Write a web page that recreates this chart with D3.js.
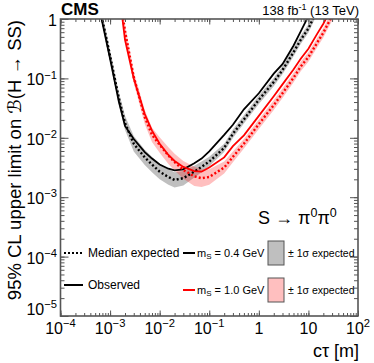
<!DOCTYPE html>
<html>
<head>
<meta charset="utf-8">
<script src="https://cdn.jsdelivr.net/npm/d3@7"></script>
<style>
  body { margin: 0; background: #fff; }
  svg { font-family: "Liberation Sans", Arial, sans-serif; }
</style>
</head>
<body>
<svg id="chart" width="374" height="363"></svg>
<script>
// c*tau grid [m]
const ctau = [6e-4, 1e-3, 1.5e-3, 2e-3, 3e-3, 5e-3, 7e-3, 0.01, 0.015, 0.02, 0.03, 0.05, 0.07, 0.1,
              0.2, 0.3, 0.5, 1, 2, 3, 5, 7, 10, 15, 20, 30]

// m_S = 0.4 GeV
const obs04 = [1.58, 0.214, 0.0407, 0.0158, 0.00955, 0.00575, 0.00447, 0.00355, 0.00302, 0.00282, 0.00295, 0.00372, 0.00447, 0.00589,
               0.0112, 0.0166, 0.0302, 0.0562, 0.120, 0.174, 0.355, 0.617, 1.12, null, null, null]
const exp04 = [1.78, 0.240, 0.0468, 0.0178, 0.00794, 0.00468, 0.00355, 0.00269, 0.00219, 0.00195, 0.00209, 0.00269, 0.00324, 0.00398,
               0.00676, 0.0117, 0.0204, 0.0437, 0.0871, 0.138, 0.275, 0.447, 0.692, 1.41, null, null]
const exp04Up = [2.24, 0.302, 0.0589, 0.0234, 0.0107, 0.00631, 0.00479, 0.00363, 0.00295, 0.00263, 0.00275, 0.00339, 0.00398, 0.00479,
                 0.00794, 0.0138, 0.0240, 0.0513, 0.102, 0.162, 0.324, 0.525, 0.813, 1.66, null, null]
const exp04Down = [1.41, 0.191, 0.0372, 0.0135, 0.00589, 0.00347, 0.00263, 0.00200, 0.00162, 0.00145, 0.00158, 0.00214, 0.00263, 0.00331,
                   0.00575, 0.00996, 0.0174, 0.0372, 0.0741, 0.117, 0.234, 0.380, 0.589, 1.20, null, null]

// m_S = 1.0 GeV
const obs10 = [null, null, 3.16, 0.447, 0.100, 0.0251, 0.0132, 0.00794, 0.00513, 0.00407, 0.00324, 0.00275, 0.00269, 0.00316,
               0.00468, 0.00724, 0.0110, 0.0234, 0.0501, 0.0794, 0.141, 0.214, 0.316, 0.562, 0.832, 1.58]
const exp10 = [null, null, 3.16, 0.631, 0.105, 0.0224, 0.0112, 0.00759, 0.00501, 0.00389, 0.00288, 0.00224, 0.00209, 0.00219,
               0.00316, 0.00479, 0.00794, 0.0170, 0.0355, 0.0562, 0.102, 0.158, 0.229, 0.398, 0.589, 1.12]
const exp10Up = [null, null, 3.98, 0.794, 0.132, 0.0295, 0.0148, 0.0102, 0.00692, 0.00537, 0.00407, 0.00324, 0.00295, 0.00295,
                 0.00398, 0.00589, 0.00955, 0.0204, 0.0427, 0.0676, 0.123, 0.190, 0.275, 0.479, 0.708, 1.35]
const exp10Down = [null, null, 2.51, 0.501, 0.0834, 0.0170, 0.00849, 0.00562, 0.00363, 0.00282, 0.00204, 0.00155, 0.00148, 0.00162,
                   0.00251, 0.00389, 0.00661, 0.0141, 0.0295, 0.0468, 0.0851, 0.132, 0.191, 0.331, 0.490, 0.933]

// tick labels: [base, exponent]
const xTicks = [1e-4, 1e-3, 1e-2, 1e-1, 1, 10, 100]
const xTickLabels = [["10", "−4"], ["10", "−3"], ["10", "−2"], ["10", "−1"], ["1", ""], ["10", ""], ["10", "2"]]
const yTicks = [1e-5, 1e-4, 1e-3, 1e-2, 1e-1, 1]
const yTickLabels = [["10", "−5"], ["10", "−4"], ["10", "−3"], ["10", "−2"], ["10", "−1"], ["1", ""]]

const series = [
    { obs: obs04, exp: exp04, up: exp04Up, down: exp04Down, color: "#000", band: "rgba(0,0,0,0.25)" },
    { obs: obs10, exp: exp10, up: exp10Up, down: exp10Down, color: "#ff0000", band: "rgba(255,0,0,0.25)" }
]

const pLeft = 60.5, pRight = 358, pTop = 19, pBottom = 316
const axisColor = "#555"

const svg = d3.select("#chart")
const x = d3.scaleLog().domain([1e-4, 1e2]).range([pLeft, pRight])
const y = d3.scaleLog().domain([1e-5, 1]).range([pBottom, pTop])

svg.append("defs").append("clipPath").attr("id", "plot-clip")
    .append("rect").attr("x", pLeft).attr("y", pTop).attr("width", pRight - pLeft).attr("height", pBottom - pTop)

const plot = svg.append("g").attr("clip-path", "url(#plot-clip)")

// bands
series.forEach(s => {
    const area = d3.area()
        .defined((d, i) => s.up[i] != null)
        .x((d, i) => x(ctau[i]))
        .y0((d, i) => y(s.down[i]))
        .y1((d, i) => y(s.up[i]))
    plot.append("path").datum(ctau).attr("d", area).attr("fill", s.band)
})

// lines
series.forEach(s => {
    const line = vals => d3.line()
        .defined((d, i) => vals[i] != null)
        .x((d, i) => x(ctau[i]))
        .y((d, i) => y(vals[i]))(ctau)
    plot.append("path").attr("d", line(s.exp))
        .attr("fill", "none").attr("stroke", s.color).attr("stroke-width", 2.4)
        .attr("stroke-dasharray", "2,2.2")
    plot.append("path").attr("d", line(s.obs))
        .attr("fill", "none").attr("stroke", s.color).attr("stroke-width", 1.8)
})

// frame + ticks (inside, on all four sides)
const axes = svg.append("g")
axes.append("g").attr("transform", `translate(0,${pBottom})`)
    .call(d3.axisBottom(x).tickValues(x.ticks()).tickSize(-3).tickFormat("").tickSizeOuter(0))
axes.append("g").attr("transform", `translate(0,${pBottom})`)
    .call(d3.axisBottom(x).tickValues(xTicks).tickSize(-5.5).tickFormat("").tickSizeOuter(0))
axes.append("g").attr("transform", `translate(0,${pTop})`)
    .call(d3.axisTop(x).tickValues(x.ticks()).tickSize(-3).tickFormat("").tickSizeOuter(0))
axes.append("g").attr("transform", `translate(0,${pTop})`)
    .call(d3.axisTop(x).tickValues(xTicks).tickSize(-5.5).tickFormat("").tickSizeOuter(0))
axes.append("g").attr("transform", `translate(${pLeft},0)`)
    .call(d3.axisLeft(y).tickValues(y.ticks()).tickSize(-4).tickFormat("").tickSizeOuter(0))
axes.append("g").attr("transform", `translate(${pLeft},0)`)
    .call(d3.axisLeft(y).tickValues(yTicks).tickSize(-8).tickFormat("").tickSizeOuter(0))
axes.append("g").attr("transform", `translate(${pRight},0)`)
    .call(d3.axisRight(y).tickValues(y.ticks()).tickSize(-4).tickFormat("").tickSizeOuter(0))
axes.append("g").attr("transform", `translate(${pRight},0)`)
    .call(d3.axisRight(y).tickValues(yTicks).tickSize(-8).tickFormat("").tickSizeOuter(0))
axes.selectAll("line").attr("stroke", axisColor).attr("stroke-width", 1)
axes.selectAll(".domain").remove()

svg.append("rect").attr("x", pLeft).attr("y", pTop).attr("width", pRight - pLeft).attr("height", pBottom - pTop)
    .attr("fill", "none").attr("stroke", axisColor).attr("stroke-width", 1.6)

// tick labels
function powLabel(g, base, exp, size) {
    g.append("tspan").text(base)
    if (exp) g.append("tspan").text(exp).attr("font-size", size * 0.7).attr("dy", -size * 0.42)
}

xTicks.forEach((v, i) => {
    const t = svg.append("text").attr("x", x(v)).attr("y", 334)
        .attr("text-anchor", "middle").attr("font-size", 16).attr("fill", "#000")
    powLabel(t, xTickLabels[i][0], xTickLabels[i][1], 16)
})
yTicks.forEach((v, i) => {
    const yy = i === 0 ? y(v) - 1 : y(v) + 7
    const t = svg.append("text").attr("x", 57).attr("y", yy)
        .attr("text-anchor", "end").attr("font-size", 16).attr("fill", "#000")
    powLabel(t, yTickLabels[i][0], yTickLabels[i][1], 16)
})

// axis titles
svg.append("text").attr("x", 359).attr("y", 357).attr("text-anchor", "end")
    .attr("font-size", 18).text("cτ [m]")
const yt = svg.append("text").attr("transform", "translate(21,20) rotate(-90)")
    .attr("text-anchor", "end").attr("font-size", 18.5)
yt.append("tspan").text("95% CL upper limit on ")
yt.append("tspan").text("ℬ").attr("font-family", "DejaVu Sans")
yt.append("tspan").text("(H → SS)")

// header
svg.append("text").attr("x", 61).attr("y", 15).attr("font-size", 17).attr("font-weight", "bold").text("CMS")
const lumi = svg.append("text").attr("x", 359).attr("y", 15).attr("text-anchor", "end").attr("font-size", 13)
lumi.append("tspan").text("138 fb")
lumi.append("tspan").text("-1").attr("font-size", 9).attr("dy", -5)
lumi.append("tspan").text(" (13 TeV)").attr("dy", 5)

// process label
const proc = svg.append("text").attr("x", 258).attr("y", 224).attr("font-size", 18)
proc.append("tspan").text("S → π")
proc.append("tspan").text("0").attr("font-size", 12.5).attr("dy", -7)
proc.append("tspan").text("π").attr("dy", 7)
proc.append("tspan").text("0").attr("font-size", 12.5).attr("dy", -7)

// legend
const leg = svg.append("g").attr("font-size", 12)
leg.append("line").attr("x1", 64).attr("x2", 83).attr("y1", 253).attr("y2", 253)
    .attr("stroke", "#000").attr("stroke-width", 2).attr("stroke-dasharray", "2,2")
leg.append("text").attr("x", 88).attr("y", 257).text("Median expected")
leg.append("line").attr("x1", 64).attr("x2", 83).attr("y1", 285).attr("y2", 285)
    .attr("stroke", "#000").attr("stroke-width", 2)
leg.append("text").attr("x", 88).attr("y", 289).text("Observed")

const massRows = [{ m: "0.4", y: 253 }, { m: "1.0", y: 290 }]
massRows.forEach((r, i) => {
    const s = series[i]
    leg.append("line").attr("x1", 183).attr("x2", 195).attr("y1", r.y).attr("y2", r.y)
        .attr("stroke", s.color).attr("stroke-width", 2)
    const t = leg.append("text").attr("x", 197).attr("y", r.y + 4).attr("font-size", 11)
    t.append("tspan").text("m")
    t.append("tspan").text("S").attr("font-size", 8).attr("dy", 2)
    t.append("tspan").text(` = ${r.m} GeV`).attr("dy", -2)
    leg.append("rect").attr("x", 268).attr("y", r.y - 12).attr("width", 16).attr("height", 24)
        .attr("fill", i === 0 ? "#bfbfbf" : "#ffbfbf").attr("stroke", "#555").attr("stroke-width", 1)
    leg.append("text").attr("x", 288).attr("y", r.y + 4).attr("font-size", 10.5).text("± 1σ expected")
})
</script>
</body>
</html>
